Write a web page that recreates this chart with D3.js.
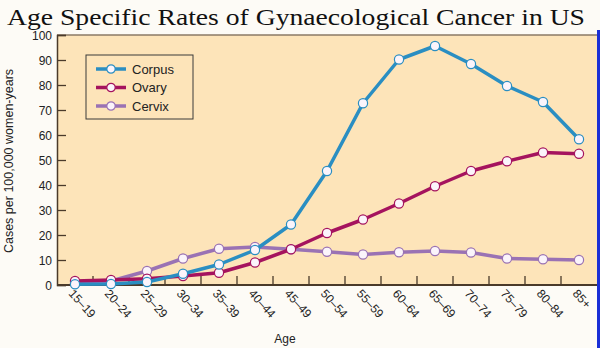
<!DOCTYPE html>
<html>
<head>
<meta charset="utf-8">
<script src="https://cdn.jsdelivr.net/npm/d3@7"></script>
<style>
  html, body { margin: 0; padding: 0; background: #fdfbf6; }
  svg { display: block; }
  .tick text { font-family: "Liberation Sans", Arial, sans-serif; font-size: 12px; fill: #222; }
</style>
</head>
<body>
<div id="chart"></div>
<script>
// Data
const ageGroups = ["15–19", "20–24", "25–29", "30–34", "35–39", "40–44", "45–49", "50–54",
  "55–59", "60–64", "65–69", "70–74", "75–79", "80–84", "85+"];
const corpus = [0.3, 0.4, 1.2, 4.5, 8.2, 14, 24.2, 45.6, 72.7, 90.2, 95.6, 88.4, 79.6, 73.2, 58.3];
const ovary = [1.6, 2, 2.5, 3.6, 4.9, 9, 14.3, 20.8, 26.2, 32.6, 39.5, 45.6, 49.5, 53, 52.5];
const cervix = [0.6, 1.6, 5.6, 10.6, 14.5, 15.2, 14.3, 13.3, 12.2, 13.1, 13.6, 13, 10.6, 10.3, 10];
const yTicks = [0, 10, 20, 30, 40, 50, 60, 70, 80, 90, 100];

const series = [
  { name: "Corpus", values: corpus, color: "#2a8ec2" },
  { name: "Ovary", values: ovary, color: "#a5135e" },
  { name: "Cervix", values: cervix, color: "#9a72b4" }
];

const width = 600, height = 348;
const plot = { left: 57, right: 597, top: 35, bottom: 285 };
const sans = "'Liberation Sans', Arial, sans-serif";

const svg = d3.select("#chart").append("svg")
  .attr("width", width)
  .attr("height", height);

// slide decoration on the right
svg.append("rect")
  .attr("x", 597).attr("y", 30).attr("width", 3).attr("height", height - 30)
  .attr("fill", "#1a2fd6");

// title
svg.append("text")
  .attr("x", 7).attr("y", 25)
  .attr("font-family", "'Liberation Serif', 'DejaVu Serif', serif")
  .attr("font-size", 24)
  .attr("textLength", 578)
  .attr("lengthAdjust", "spacingAndGlyphs")
  .attr("fill", "#111")
  .text("Age Specific Rates of Gynaecological Cancer in US");

const x = d3.scaleBand().domain(ageGroups).range([plot.left, plot.right]);
const y = d3.scaleLinear().domain([0, 100]).range([plot.bottom, plot.top]);

// plot background
svg.append("rect")
  .attr("x", plot.left).attr("y", plot.top)
  .attr("width", plot.right - plot.left).attr("height", plot.bottom - plot.top)
  .attr("fill", "#fde4b9");

// top border
svg.append("line")
  .attr("x1", plot.left).attr("x2", plot.right)
  .attr("y1", plot.top).attr("y2", plot.top)
  .attr("stroke", "#8a7a66").attr("stroke-width", 1.5);

// y axis, ticks pointing inward
const yAxisG = svg.append("g")
  .attr("transform", `translate(${plot.left},0)`)
  .call(d3.axisRight(y).tickValues(yTicks).tickSize(9));
yAxisG.select(".domain").attr("stroke", "#4a3a2a").attr("stroke-width", 1.5);
yAxisG.selectAll(".tick line").attr("stroke", "#4a3a2a").attr("stroke-width", 1.3);
yAxisG.selectAll(".tick text").attr("text-anchor", "end").attr("x", -5).attr("dy", "0.36em");

// x axis: ticks at category boundaries, pointing up
const bounds = ageGroups.slice(1).map(a => x(a));
const xAxisG = svg.append("g");
xAxisG.append("line")
  .attr("x1", plot.left).attr("x2", plot.right)
  .attr("y1", plot.bottom).attr("y2", plot.bottom)
  .attr("stroke", "#4a3a2a").attr("stroke-width", 1.8);
xAxisG.selectAll("line.tk").data(bounds).join("line")
  .attr("class", "tk")
  .attr("x1", d => d).attr("x2", d => d)
  .attr("y1", plot.bottom).attr("y2", plot.bottom - 9)
  .attr("stroke", "#4a3a2a").attr("stroke-width", 1.3);
xAxisG.selectAll("text").data(ageGroups).join("text")
  .attr("transform", d => `translate(${x(d) + x.bandwidth() / 2 - 7},${plot.bottom + 9}) rotate(48)`)
  .attr("font-family", sans)
  .attr("font-size", 12)
  .attr("fill", "#222")
  .text(d => d);

// axis titles
svg.append("text")
  .attr("transform", `translate(13,${(plot.top + plot.bottom) / 2 + 1}) rotate(-90)`)
  .attr("text-anchor", "middle")
  .attr("font-family", sans)
  .attr("font-size", 12.5)
  .attr("fill", "#222")
  .text("Cases per 100,000 women-years");

svg.append("text")
  .attr("x", 285).attr("y", 343)
  .attr("text-anchor", "middle")
  .attr("font-family", sans)
  .attr("font-size", 12)
  .attr("fill", "#222")
  .text("Age");

// lines and markers (cervix drawn first, then ovary, corpus on top)
const line = d3.line()
  .x((d, i) => x(ageGroups[i]) + x.bandwidth() / 2)
  .y(d => y(d));

const drawOrder = [series[2], series[1], series[0]];
drawOrder.forEach(s => {
  const g = svg.append("g");
  g.append("path")
    .datum(s.values)
    .attr("d", line)
    .attr("fill", "none")
    .attr("stroke", s.color)
    .attr("stroke-width", 3.5)
    .attr("stroke-linejoin", "round");
  g.selectAll("circle").data(s.values).join("circle")
    .attr("cx", (d, i) => x(ageGroups[i]) + x.bandwidth() / 2)
    .attr("cy", d => y(d))
    .attr("r", 4.6)
    .attr("fill", "#fbf4fb")
    .attr("stroke", s.color)
    .attr("stroke-width", 1.2);
});

// legend
const legend = svg.append("g").attr("transform", "translate(86,55)");
legend.append("rect")
  .attr("width", 107).attr("height", 64)
  .attr("fill", "#fde4b9")
  .attr("stroke", "#3a3a3a").attr("stroke-width", 1);
series.forEach((s, i) => {
  const row = legend.append("g").attr("transform", `translate(10,${14 + i * 18.5})`);
  row.append("line")
    .attr("x1", 0).attr("x2", 30)
    .attr("stroke", s.color).attr("stroke-width", 3.5);
  row.append("circle")
    .attr("cx", 15).attr("r", 4.2)
    .attr("fill", "#fbf4fb").attr("stroke", s.color).attr("stroke-width", 1.2);
  row.append("text")
    .attr("x", 36).attr("y", 4.5)
    .attr("font-family", sans)
    .attr("font-size", 13)
    .attr("fill", "#222")
    .text(s.name);
});
</script>
</body>
</html>
